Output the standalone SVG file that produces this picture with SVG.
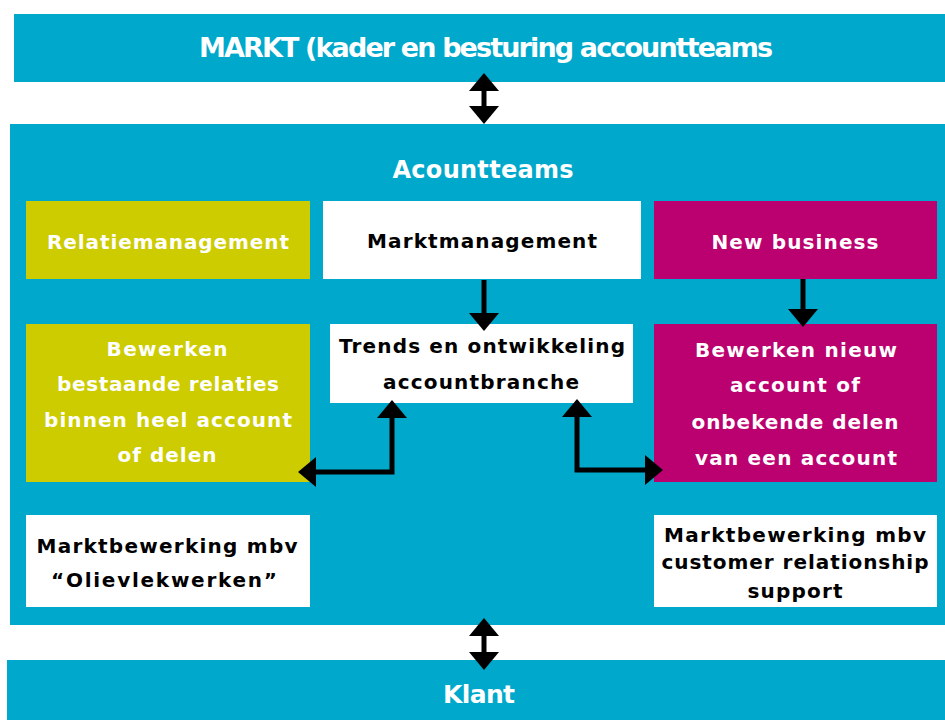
<svg xmlns="http://www.w3.org/2000/svg" width="945" height="720" viewBox="0 0 945 720">
  <style>
    .teal { fill: #00A9CB; }
    .lime { fill: #CCCC00; }
    .plum { fill: #BB006F; }
    .paper { fill: #FFFFFF; }
    text { font-family: "DejaVu Sans", "Liberation Sans", sans-serif; font-weight: bold; text-anchor: middle; }
    .light { fill: #FFFFFF; }
    .dark { fill: #000000; }
    .t20 { font-size: 20px; }
    .link { fill: none; stroke: #000000; stroke-width: 5; stroke-linejoin: miter; }
  </style>
  <defs>
    <marker id="head" markerUnits="userSpaceOnUse" markerWidth="18" markerHeight="30" viewBox="0 0 18 30" refX="14" refY="15" orient="auto-start-reverse">
      <path d="M0,0 L18,15 L0,30 Z" fill="#000000"/>
    </marker>
  </defs>

  <rect width="945" height="720" fill="#FFFFFF"/>

  <g id="markt">
    <rect class="teal" x="14" y="14" width="931" height="68"/>
    <text class="light" x="486" y="57" font-size="27" textLength="574">MARKT (kader en besturing accountteams</text>
  </g>

  <g id="accountteams">
    <rect class="teal" x="10" y="124" width="935" height="501"/>
    <text class="light" x="483" y="178" font-size="24" textLength="181">Acountteams</text>
  </g>

  <g id="klant">
    <rect class="teal" x="7" y="660" width="938" height="60"/>
    <text class="light" x="479" y="703" font-size="25" textLength="72">Klant</text>
  </g>

  <g id="relatiemanagement">
    <rect class="lime" x="26" y="201" width="284" height="78"/>
    <text class="light t20" x="168" y="249" textLength="242">Relatiemanagement</text>
  </g>

  <g id="marktmanagement">
    <rect class="paper" x="323" y="201" width="318" height="78"/>
    <text class="dark t20" x="482" y="248" textLength="230">Marktmanagement</text>
  </g>

  <g id="new-business">
    <rect class="plum" x="654" y="201" width="283" height="78"/>
    <text class="light t20" x="795" y="249" textLength="167">New business</text>
  </g>

  <g id="bestaande-relaties">
    <rect class="lime" x="26" y="324" width="284" height="158"/>
    <text class="light t20" x="167" y="356" textLength="121">Bewerken</text>
    <text class="light t20" x="168" y="391" textLength="222">bestaande relaties</text>
    <text class="light t20" x="168" y="427" textLength="248">binnen heel account</text>
    <text class="light t20" x="167" y="462" textLength="99">of delen</text>
  </g>

  <g id="trends">
    <rect class="paper" x="330" y="324" width="303" height="79"/>
    <text class="dark t20" x="482" y="353" textLength="286">Trends en ontwikkeling</text>
    <text class="dark t20" x="481" y="389" textLength="196">accountbranche</text>
  </g>

  <g id="nieuw-account">
    <rect class="plum" x="654" y="324" width="283" height="158"/>
    <text class="light t20" x="796" y="357" textLength="202">Bewerken nieuw</text>
    <text class="light t20" x="795" y="392" textLength="130">account of</text>
    <text class="light t20" x="795" y="429" textLength="207">onbekende delen</text>
    <text class="light t20" x="796" y="465" textLength="202">van een account</text>
  </g>

  <g id="olievlekwerken">
    <rect class="paper" x="26" y="515" width="284" height="92"/>
    <text class="dark t20" x="167" y="553" textLength="261">Marktbewerking mbv</text>
    <text class="dark t20" x="164" y="587" textLength="226">“Olievlekwerken”</text>
  </g>

  <g id="crm-support">
    <rect class="paper" x="654" y="515" width="283" height="92"/>
    <text class="dark t20" x="795" y="542" textLength="262">Marktbewerking mbv</text>
    <text class="dark t20" x="795" y="569" textLength="267">customer relationship</text>
    <text class="dark t20" x="795" y="598" textLength="95">support</text>
  </g>

  <g id="connectors">
    <path class="link" d="M484,77 L484,120" marker-start="url(#head)" marker-end="url(#head)"/>
    <path class="link" d="M484,622 L484,666" marker-start="url(#head)" marker-end="url(#head)"/>
    <path class="link" d="M484,280 L484,327" marker-end="url(#head)"/>
    <path class="link" d="M803,279 L803,323" marker-end="url(#head)"/>
    <path class="link" d="M392,404 L392,472 L302,472" marker-start="url(#head)" marker-end="url(#head)"/>
    <path class="link" d="M577,403 L577,470 L659,470" marker-start="url(#head)" marker-end="url(#head)"/>
  </g>
</svg>
